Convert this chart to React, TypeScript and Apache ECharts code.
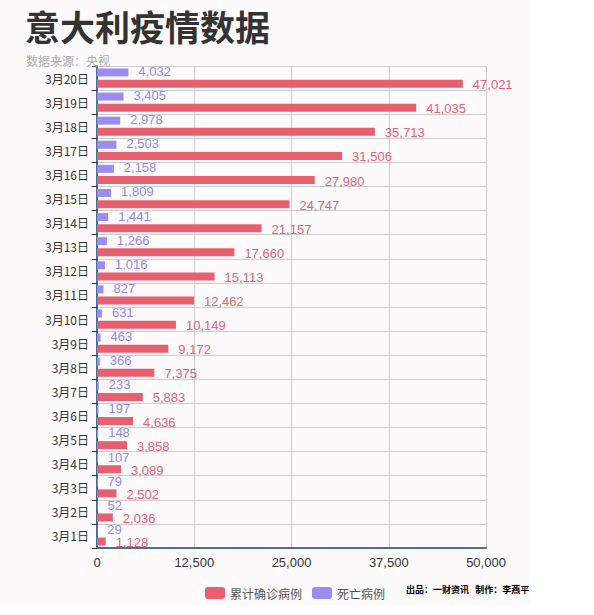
import React, { useEffect, useRef } from "react";
import * as echarts from "echarts";

const categories = [
  "3月1日", "3月2日", "3月3日", "3月4日", "3月5日", "3月6日", "3月7日", "3月8日", "3月9日", "3月10日",
  "3月11日", "3月12日", "3月13日", "3月14日", "3月15日", "3月16日", "3月17日", "3月18日", "3月19日", "3月20日",
];
const confirmed = [
  1128, 2036, 2502, 3089, 3858, 4636, 5883, 7375, 9172, 10149,
  12462, 15113, 17660, 21157, 24747, 27980, 31506, 35713, 41035, 47021,
];
const deaths = [
  29, 52, 79, 107, 148, 197, 233, 366, 463, 631,
  827, 1016, 1266, 1441, 1809, 2158, 2503, 2978, 3405, 4032,
];
const seriesNames = ["累计确诊病例", "死亡病例"];

const FONT = "'Liberation Sans', Arial, 'Noto Sans CJK SC', sans-serif";
const CJK = "'Noto Sans CJK SC', sans-serif";
const fmt = (v: number) => v.toLocaleString("en-US");

export default function App() {
  const ref = useRef<HTMLDivElement>(null);
  useEffect(() => {
    if (!ref.current) return;
    const chart = echarts.init(ref.current, null, { renderer: "svg" });
    chart.setOption({
      animation: false,
      backgroundColor: "#fdfafc",
      textStyle: { fontFamily: FONT },
      title: [
        {
          text: "意大利疫情数据",
          left: 20,
          top: 3,
          textStyle: { fontSize: 35, fontWeight: "bold", color: "#333", fontFamily: CJK },
        },
        {
          text: "数据来源：央视",
          left: 21,
          top: 49,
          textStyle: { fontSize: 12, fontWeight: "normal", color: "#aaa", fontFamily: CJK },
        },
      ],
      legend: {
        data: seriesNames,
        left: 200,
        top: 582,
        itemWidth: 20,
        itemHeight: 12,
        itemGap: 10,
        textStyle: { fontSize: 12, color: "#555", fontFamily: CJK },
      },
      graphic: [
        {
          type: "text",
          left: 406,
          top: 585,
          style: {
            text: "出品：一财资讯   制作：李燕平",
            font: "bold 9px 'Noto Sans CJK SC', sans-serif",
            fill: "#000",
          },
        },
      ],
      grid: { left: 97, right: 44, top: 66, bottom: 57 },
      xAxis: {
        type: "value",
        min: 0,
        max: 50000,
        interval: 12500,
        axisLine: { show: true, lineStyle: { color: "#4a6f96", width: 2 } },
        axisTick: { show: false },
        axisLabel: { color: "#333", fontSize: 13, formatter: (v: number) => fmt(v) },
        splitLine: { show: true, lineStyle: { color: "#ccc" } },
      },
      yAxis: {
        type: "category",
        data: categories,
        axisLine: { show: true, lineStyle: { color: "#4a6f96", width: 2 } },
        axisTick: { show: true, length: 5, lineStyle: { color: "#333" } },
        axisLabel: { color: "#333", fontSize: 12, fontFamily: CJK },
        splitLine: { show: true, lineStyle: { color: "#ccc" } },
      },
      series: [
        {
          name: seriesNames[1],
          type: "bar",
          data: deaths,
          barWidth: 8,
          barGap: "40%",
          itemStyle: { color: "#9b8cf2" },
          label: {
            show: true,
            position: "right",
            distance: 10,
            offset: [0, -1],
            color: "#9489e6",
            fontSize: 13,
            lineHeight: 13,
            formatter: (p: any) => fmt(p.value),
          },
        },
        {
          name: seriesNames[0],
          type: "bar",
          data: confirmed,
          barWidth: 8,
          itemStyle: { color: "#e8606f" },
          label: {
            show: true,
            position: "right",
            distance: 10,
            offset: [0, 1],
            color: "#e06378",
            fontSize: 13,
            lineHeight: 13,
            formatter: (p: any) => fmt(p.value),
          },
        },
      ],
    });
    return () => chart.dispose();
  }, []);
  return (
    <div style={{ position: "absolute", left: 0, top: 0, width: 594, height: 615, background: "#fff" }}>
      <div ref={ref} style={{ width: 530, height: 605 }} />
    </div>
  );
}
